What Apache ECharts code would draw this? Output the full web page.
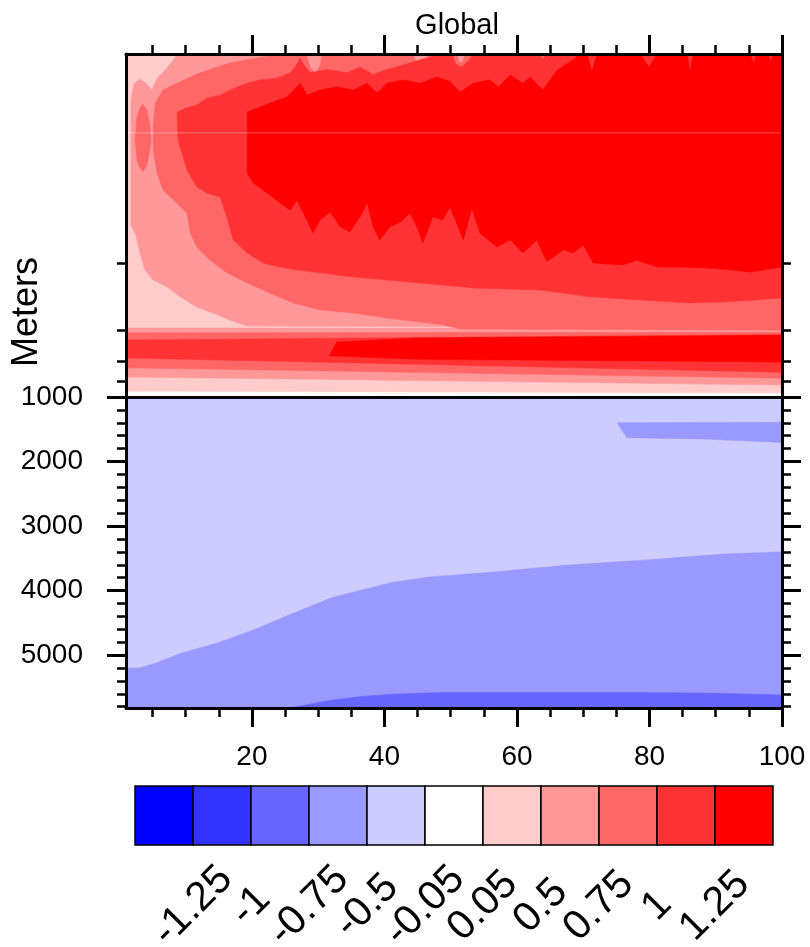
<!DOCTYPE html>
<html>
<head>
<meta charset="utf-8">
<title>Global</title>
<script src="https://cdn.jsdelivr.net/npm/echarts@6/dist/echarts.min.js"></script>
<style>
  html, body { margin: 0; padding: 0; background: #fff; }
  #chart { width: 810px; height: 947px; }
</style>
</head>
<body>
<div id="chart"></div>
<script>
const font = 'Liberation Sans'

// contour levels and fill colours of the colour bar
const levelLabels = ['-1.25', '-1', '-0.75', '-0.5', '-0.05', '0.05', '0.5', '0.75', '1', '1.25']
const palette = ['#0000ff', '#3333ff', '#6666ff', '#9999ff', '#ccccff', '#ffffff',
  '#ffcccc', '#ff9999', '#ff6666', '#ff3333', '#ff0000']

// ticks
const xMajor = [20, 40, 60, 80, 100]
const xMinor = [5, 10, 15, 25, 30, 35, 45, 50, 55, 65, 70, 75, 85, 90, 95]
const upperTicks = [610, 805, 895, 955]
const lowerMajor = [1000, 2000, 3000, 4000, 5000]
const lowerMinor = [1200, 1400, 1600, 1800, 2200, 2400, 2600, 2800, 3200, 3400, 3600, 3800,
  4200, 4400, 4600, 4800, 5200, 5400, 5600, 5800]
const seamDepth = 230

// upper panel (0-1000 m): contour boundaries as [x, depth] along top and bottom of each filled region
const upBaseTop = [[1, 0], [100, 0]]
const upBaseBottom = [[1, 983], [100, 988]]

const c2Top = [[1.75, 134], [2.2, 87], [3.1, 73], [4.0, 85], [4.9, 105], [5.7, 70], [6.9, 47], [7.9, 23], [8.7, 0], [100, 0]]
const c2Bottom = [[1.75, 500], [2.5, 528], [3.1, 580], [3.85, 630], [5.1, 659], [7.2, 679], [9.15, 708], [11.7, 738],
  [14.1, 755], [16.7, 776], [19.3, 793], [100, 799]]
const bandC2Top = [[1, 799], [100, 799]]
const bandC2Bottom = [[1, 942], [100, 965]]

const c3Top = [[5.4, 143], [6.6, 105], [8.7, 85], [10.7, 67], [12.6, 52], [14.7, 38], [16.7, 26], [19.3, 17], [21.7, 9],
  [23.8, 3], [24.5, 0], [28.2, 0], [28.8, 40], [29.6, 55], [30.3, 35], [30.6, 0], [44.3, 0], [45.0, 32], [46.0, 30],
  [46.7, 0], [50.9, 0], [51.3, 25], [51.8, 25], [52.2, 0], [100, 0]]
const c3Bottom = [[5.1, 213], [5.1, 280], [5.7, 347], [6.6, 397], [8.7, 435], [10.2, 464], [10.7, 522], [11.7, 563],
  [13.7, 601], [16.2, 638], [19.3, 668], [22.7, 697], [26.2, 726], [30.3, 746], [35.3, 755], [40.4, 770], [45.4, 781],
  [49.0, 790], [51.4, 802], [100, 805]]
const ovalTop = [[2.35, 251], [2.65, 187], [3.1, 157], [3.55, 146], [4.15, 163], [4.6, 207], [4.8, 251]]
const ovalBottom = [[2.35, 251], [2.65, 309], [3.1, 332], [3.55, 344], [4.15, 324], [4.6, 280], [4.8, 251]]
const bandC3Top = [[1, 813], [100, 811]]
const bandC3Bottom = [[1, 915], [100, 945]]

const c4Top = [[8.7, 169], [10.2, 157], [11.7, 149], [13.2, 128], [15.2, 120], [16.7, 105], [19.3, 85], [21.2, 76],
  [23.8, 70], [25.8, 55], [26.8, 30], [27.3, 12], [27.8, 30], [28.8, 55], [31.3, 45], [34.4, 55], [36.3, 38], [38.3, 60],
  [40.4, 45], [42.8, 32], [44.9, 20], [46.7, 10], [48.0, 0], [50.2, 0], [50.8, 30], [51.7, 38], [52.9, 15], [53.4, 0],
  [63.5, 0], [63.9, 17], [64.5, 0], [100, 0]]
const c4Bottom = [[8.85, 251], [10.2, 338], [11.7, 388], [13.2, 405], [15.2, 417], [16.2, 475], [17.2, 542], [19.3, 580],
  [21.7, 609], [24.2, 621], [26.8, 630], [30.3, 638], [35.3, 650], [40.4, 659], [45.4, 668], [48.4, 673], [53.4, 682],
  [63.5, 688], [71.0, 708], [78.6, 717], [86.1, 726], [91.1, 723], [96.2, 717], [100, 711]]
const bandC4Top = [[1, 834], [100, 818]]
const bandC4Bottom = [[1, 886], [100, 928]]

const c5Top = [[19.3, 169], [21.2, 155], [23.2, 140], [25.3, 125], [27.3, 85], [28.3, 120], [30.3, 105], [32.8, 96],
  [35.3, 105], [37.4, 85], [38.9, 114], [40.4, 85], [42.8, 76], [45.4, 85], [47.9, 67], [49.9, 80], [51.4, 111],
  [53.4, 85], [55.9, 76], [57.2, 96], [59.0, 61], [60.9, 85], [62.0, 67], [63.9, 105], [66.1, 47], [68.5, 17],
  [69.5, 0], [70.6, 0], [71.3, 52], [72.1, 0], [78.6, 0], [79.9, 38], [81.2, 0], [85.7, 0], [86.1, 52], [86.6, 0],
  [95.2, 0], [95.7, 26], [96.2, 0], [97.9, 0], [98.3, 23], [98.7, 0], [100, 0]]
const c5Bottom = [[19.3, 347], [20.2, 376], [22.3, 405], [24.2, 434], [25.8, 455], [26.8, 426], [28.3, 484], [29.2, 522],
  [30.3, 484], [31.8, 461], [33.3, 504], [34.8, 519], [36.3, 475], [37.4, 434], [38.3, 504], [39.3, 542], [40.8, 504],
  [42.4, 490], [43.9, 464], [44.9, 504], [45.8, 551], [47.3, 475], [48.8, 484], [49.9, 446], [51.9, 542], [53.2, 449],
  [54.4, 522], [57.0, 563], [59.0, 542], [60.9, 580], [63.0, 542], [64.5, 606], [67.0, 571], [68.5, 580], [70.0, 557],
  [71.5, 609], [76.0, 615], [78.1, 601], [81.2, 621], [84.6, 621], [88.7, 624], [92.6, 630], [95.2, 636], [100, 621]]
const bandC5Top = [[32.8, 840], [45, 828], [100, 820]]
const bandC5Bottom = [[31.7, 880], [45, 890], [100, 898]]

// lower panel (1000-5820 m)
const lowBaseTop = [[1, 1000], [100, 1000]]
const lowBaseBottom = [[1, 5820], [100, 5820]]
const patchTop = [[75.1, 1398], [100, 1392]]
const patchBottom = [[76.6, 1630], [88, 1650], [100, 1705]]
const deepTop = [[1, 5202], [3, 5202], [5.4, 5125], [9.3, 4970], [14.7, 4815], [20.2, 4610], [25.6, 4380], [31.9, 4115],
  [36.6, 3990], [41.3, 3870], [46.7, 3790], [56.1, 3715], [67.7, 3605], [79.5, 3525], [91.1, 3435], [100, 3400]]
const deepBottom = [[1, 5820], [100, 5820]]
const b3Top = [[25.6, 5820], [31.9, 5700], [36.6, 5640], [41.3, 5605], [48.2, 5578], [79.5, 5578], [90, 5590], [100, 5620]]
const b3Bottom = [[25.6, 5820], [100, 5820]]

// [palette index, top, bottom], painted in order
const upperRegions = [
  [6, upBaseTop, upBaseBottom],
  [7, c2Top, c2Bottom],
  [7, bandC2Top, bandC2Bottom],
  [8, c3Top, c3Bottom],
  [8, ovalTop, ovalBottom],
  [8, bandC3Top, bandC3Bottom],
  [9, c4Top, c4Bottom],
  [9, bandC4Top, bandC4Bottom],
  [10, c5Top, c5Bottom],
  [10, bandC5Top, bandC5Bottom]
]
const lowerRegions = [
  [4, lowBaseTop, lowBaseBottom],
  [3, patchTop, patchBottom],
  [3, deepTop, deepBottom],
  [2, b3Top, b3Bottom]
]

function regionSeries (regions, xi, yi) {
  return {
    type: 'custom',
    coordinateSystem: 'cartesian2d',
    xAxisIndex: xi,
    yAxisIndex: yi,
    silent: true,
    z: 1,
    data: regions.map(r => r[1][0]),
    renderItem: (params, api) => {
      const [level, top, bottom] = regions[params.dataIndex]
      const points = top.concat(bottom.slice().reverse()).map(p => api.coord(p))
      return {
        type: 'polygon',
        shape: { points },
        style: { fill: palette[level], stroke: palette[level], lineWidth: 0.5 }
      }
    }
  }
}

function axis (grid, pos, min, max, opt) {
  const a = {
    type: 'value',
    gridIndex: grid,
    position: pos,
    min: min,
    max: max,
    z: 10,
    splitLine: { show: false },
    axisLine: { show: !!opt.line, onZero: false, lineStyle: { color: '#000', width: 3 } },
    axisTick: { show: false },
    axisLabel: { show: false }
  }
  if (opt.ticks) {
    a.axisTick = {
      show: true,
      inside: false,
      customValues: opt.ticks,
      length: opt.len,
      lineStyle: { color: '#000', width: opt.len > 10 ? 3 : 2.5 }
    }
  }
  if (opt.labels) {
    a.axisLabel = Object.assign({
      show: true,
      customValues: opt.labels,
      color: '#000',
      fontFamily: font,
      fontSize: 28,
      formatter: v => String(v)
    }, opt.labelStyle)
  }
  if (opt.inverse) a.inverse = true
  return a
}

const chart = echarts.init(document.getElementById('chart'), null, { renderer: 'canvas' })

chart.setOption({
  animation: false,
  backgroundColor: '#fff',
  title: {
    text: 'Global',
    left: 452,
    top: 6,
    textAlign: 'center',
    textStyle: { fontFamily: font, fontSize: 29, fontWeight: 'normal', color: '#000' }
  },
  graphic: [{
    type: 'text',
    x: 27,
    y: 312,
    rotation: Math.PI / 2,
    style: {
      text: 'Meters',
      fontFamily: font,
      fontSize: 36,
      fill: '#000',
      align: 'center',
      verticalAlign: 'middle'
    }
  }],
  grid: [
    { left: 126, top: 54, width: 656, height: 343, outerBoundsMode: 'none' },
    { left: 126, top: 397, width: 656, height: 311, outerBoundsMode: 'none' },
    { left: 135, top: 786, width: 638, height: 59, outerBoundsMode: 'none' }
  ],
  xAxis: [
    axis(0, 'top', 1, 100, { line: true, ticks: xMajor, len: 19 }),
    axis(0, 'top', 1, 100, { ticks: xMinor, len: 9 }),
    axis(0, 'bottom', 1, 100, { line: true }),
    axis(1, 'bottom', 1, 100, { line: true, ticks: xMajor, len: 19, labels: xMajor, labelStyle: { margin: 35 } }),
    axis(1, 'bottom', 1, 100, { ticks: xMinor, len: 9 }),
    axis(1, 'top', 1, 100, { line: true }),
    axis(2, 'bottom', 0, 11, {
      labels: levelLabels.map((l, i) => i + 1),
      labelStyle: {
        fontSize: 41,
        rotate: 45,
        align: 'center',
        verticalAlign: 'middle',
        margin: 61,
        formatter: v => levelLabels[Math.round(v) - 1]
      }
    })
  ],
  yAxis: [
    axis(0, 'left', 0, 1000, { line: true, ticks: upperTicks, len: 9, inverse: true }),
    axis(0, 'right', 0, 1000, { line: true, ticks: upperTicks, len: 9, inverse: true }),
    axis(1, 'left', 1000, 5820, { line: true, ticks: lowerMajor, len: 19, inverse: true, labels: lowerMajor, labelStyle: { margin: 43 } }),
    axis(1, 'left', 1000, 5820, { ticks: lowerMinor, len: 9, inverse: true }),
    axis(1, 'right', 1000, 5820, { line: true, ticks: lowerMajor, len: 19, inverse: true }),
    axis(1, 'right', 1000, 5820, { ticks: lowerMinor, len: 9, inverse: true }),
    axis(2, 'left', 0, 1, {})
  ],
  series: [
    regionSeries(upperRegions, 0, 0),
    {
      type: 'line',
      xAxisIndex: 0,
      yAxisIndex: 0,
      silent: true,
      z: 2,
      symbol: 'none',
      lineStyle: { color: 'rgba(255,255,255,0.3)', width: 1 },
      data: [[1, seamDepth], [100, seamDepth]]
    },
    regionSeries(lowerRegions, 3, 2),
    {
      type: 'custom',
      coordinateSystem: 'cartesian2d',
      xAxisIndex: 6,
      yAxisIndex: 6,
      silent: true,
      data: palette.map((c, i) => [i, 0]),
      renderItem: (params, api) => {
        const i = params.dataIndex
        const p0 = api.coord([i, 1])
        const p1 = api.coord([i + 1, 0])
        return {
          type: 'rect',
          shape: { x: p0[0], y: p0[1], width: p1[0] - p0[0], height: p1[1] - p0[1] },
          style: { fill: palette[i], stroke: '#000', lineWidth: 1.5 }
        }
      }
    }
  ]
})
</script>
</body>
</html>
